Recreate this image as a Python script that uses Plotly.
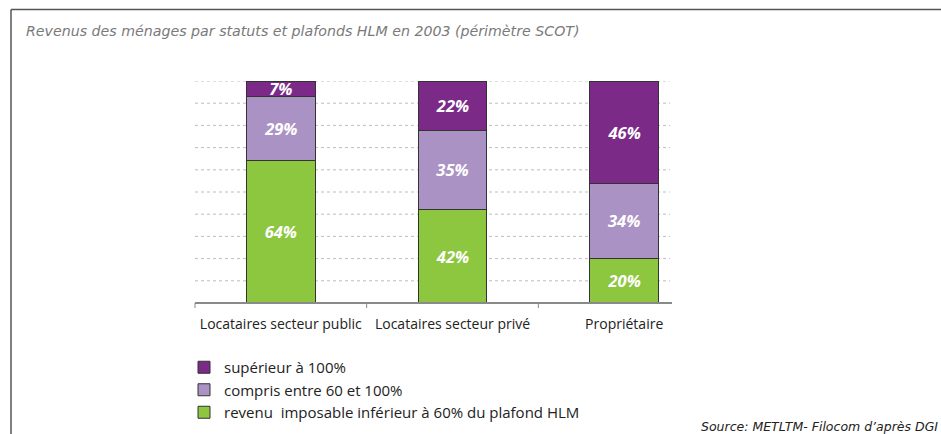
import plotly.graph_objects as go

# ---- data ----
categories = ["Locataires secteur public", "Locataires secteur privé", "Propriétaire"]
series_names = [
    "revenu \u00a0imposable inférieur à 60% du plafond HLM",
    "compris entre 60 et 100%",
    "supérieur à 100%",
]
low_income = [64, 42.3, 20]
mid_income = [29, 35.3, 34]
high_income = [7, 22.4, 46]
series_values = [low_income, mid_income, high_income]
series_colors = ["#8DC63F", "#AB92C4", "#7B2A88"]
grid_values = [10, 20, 30, 40, 50, 60, 70, 80, 90, 100]

title_text = "Revenus des ménages par statuts et plafonds HLM en 2003 (périmètre SCOT)"
source_text = "Source: METLTM- Filocom d’après DGI"

# ---- layout constants (pixels) ----
W, H = 941, 434
PLOT_L, PLOT_R, PLOT_T, PLOT_B = 195, 710, 81, 303
ML = PLOT_L
MT = PLOT_T
MR = W - PLOT_R
MB = H - PLOT_B
PW, PH = PLOT_R - PLOT_L, PLOT_B - PLOT_T


def px(x):
    return (x - PLOT_L) / PW


def py(y):
    return (PLOT_B - y) / PH


FONT = "Open Sans"
WIDE = "DejaVu Sans"

fig = go.Figure()
for name, vals, col in zip(series_names, series_values, series_colors):
    fig.add_trace(go.Bar(
        x=categories, y=vals, name=name,
        marker=dict(color=col, line=dict(color="#333333", width=1)),
        texttemplate="%{y:.0f}%", textposition="inside",
        insidetextanchor="middle", constraintext="none",
        textfont=dict(family=FONT, size=16.5, color="white", weight="bold", style="italic"),
        hoverinfo="x+y+name",
    ))

shapes = []
for g in grid_values:
    shapes.append(dict(type="line", xref="paper", yref="y", x0=0, x1=px(670), y0=g, y1=g,
                       line=dict(color="#BDBDBD", width=1, dash="dot"), layer="below"))
shapes.append(dict(type="line", xref="paper", yref="paper", x0=0, x1=px(672), y0=0, y1=0,
                   line=dict(color="#8A8A8A", width=2)))
for i in range(len(categories)):
    xt = i / len(categories)
    shapes.append(dict(type="line", xref="paper", yref="paper", x0=xt, x1=xt, y0=0, y1=py(PLOT_B + 5),
                       line=dict(color="#8A8A8A", width=1)))
shapes.append(dict(type="line", xref="paper", yref="paper", x0=px(11), x1=px(W), y0=py(9.5), y1=py(9.5),
                   line=dict(color="#555555", width=1.5)))
shapes.append(dict(type="line", xref="paper", yref="paper", x0=px(11), x1=px(11), y0=py(9.5), y1=py(H),
                   line=dict(color="#555555", width=1.5)))

annotations = [
    dict(text=title_text, xref="paper", yref="paper", x=px(24), y=py(31), xanchor="left", yanchor="middle",
         showarrow=False, font=dict(family=WIDE, size=14.2, color="#7A7A7A", style="italic")),
    dict(text=source_text, xref="paper", yref="paper", x=px(699), y=py(426), xanchor="left", yanchor="middle",
         showarrow=False, font=dict(family=WIDE, size=12.5, color="#222222", style="italic")),
]

fig.update_layout(
    width=W, height=H,
    margin=dict(l=ML, r=MR, t=MT, b=MB, pad=0, autoexpand=False),
    paper_bgcolor="white", plot_bgcolor="white",
    barmode="stack", bargap=0.6,
    showlegend=True,
    legend=dict(x=px(184), y=py(351), xanchor="left", yanchor="top",
                traceorder="reversed", tracegroupgap=0,
                font=dict(family=FONT, size=15, color="#222222"),
                bgcolor="rgba(0,0,0,0)", itemclick=False),
    xaxis=dict(showgrid=False, showline=False, zeroline=False, ticks="",
               tickfont=dict(family=FONT, size=14, color="#222222"), ticklabelstandoff=11),
    yaxis=dict(range=[0, 100], showgrid=False, showline=False, zeroline=False,
               showticklabels=False, ticks=""),
    shapes=shapes, annotations=annotations,
    font=dict(family=FONT),
)

fig.write_html("out.html", config={"displayModeBar": False},
               post_script="document.body.style.margin='0';document.body.style.overflow='hidden';")
